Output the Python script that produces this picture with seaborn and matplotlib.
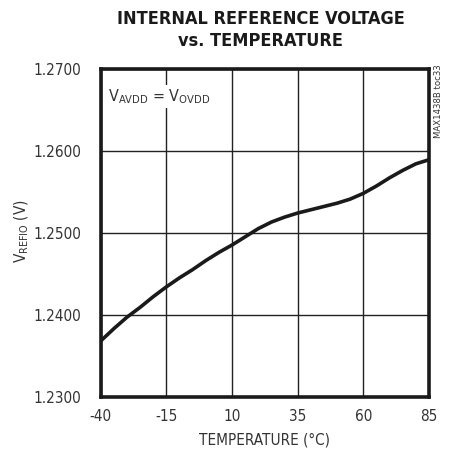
import matplotlib
matplotlib.use("Agg")
import matplotlib.pyplot as plt
import seaborn as sns
import pandas as pd

# Internal reference voltage measured across temperature
temperature_c = [-40, -35, -30, -25, -20, -15, -10, -5, 0, 5, 10, 15, 20, 25,
                 30, 35, 40, 45, 50, 55, 60, 65, 70, 75, 80, 85]
vrefio_v = [1.2368, 1.2383, 1.2397, 1.2409, 1.2422, 1.2434, 1.2445, 1.2455,
            1.2466, 1.2476, 1.2485, 1.2495, 1.2505, 1.2513, 1.2519, 1.2524,
            1.2528, 1.2532, 1.2536, 1.2541, 1.2548, 1.2557, 1.2567, 1.2576,
            1.2584, 1.2589]

x_ticks = [-40, -15, 10, 35, 60, 85]
y_ticks = [1.23, 1.24, 1.25, 1.26, 1.27]
y_tick_labels = ["1.2300", "1.2400", "1.2500", "1.2600", "1.2700"]

sns.set_theme(style="white")
plt.rcParams["font.family"] = ["DejaVu Sans"]
plt.rcParams["font.stretch"] = "condensed"
plt.rcParams["mathtext.fontset"] = "custom"
plt.rcParams["mathtext.rm"] = "DejaVu Sans:stretch=condensed"

df = pd.DataFrame({"temp": temperature_c, "vref": vrefio_v})

fig = plt.figure(figsize=(4.49, 4.62), dpi=100)
ax = fig.add_axes([0.2243, 0.1413, 0.9555 - 0.2243, 0.8513 - 0.1413])

sns.lineplot(data=df, x="temp", y="vref", ax=ax, color="#1a1a1a",
             linewidth=2.6, zorder=3)

ax.set_xlim(-40, 85)
ax.set_ylim(1.23, 1.27)
ax.set_xticks(x_ticks)
ax.set_xticklabels([str(t) for t in x_ticks])
ax.set_yticks(y_ticks)
ax.set_yticklabels(y_tick_labels)
ax.tick_params(axis="both", length=0, labelsize=11, colors="#333333")
ax.tick_params(axis="y", pad=14)
ax.tick_params(axis="x", pad=9)

ax.grid(True, color="#222222", linewidth=1.0)
for spine in ax.spines.values():
    spine.set_visible(True)
    spine.set_color("#1a1a1a")
    spine.set_linewidth(2.6)

ax.set_xlabel("TEMPERATURE (\u00b0C)", fontsize=11, color="#333333", labelpad=6)
ax.set_ylabel(r"V$_{\mathregular{REFIO}}$ (V)", fontsize=11, color="#333333")
ax.yaxis.label.set_va("center")
ax.yaxis.set_label_coords(-0.24, 0.505)

ax.text(0.022, 0.915, r"V$_{\mathregular{AVDD}}$ = V$_{\mathregular{OVDD}}$",
        transform=ax.transAxes, fontsize=11.5, color="#333333", va="center",
        ha="left", zorder=4,
        bbox=dict(facecolor="white", edgecolor="none", pad=1.5))

fig.text(0.581, 0.935, "INTERNAL REFERENCE VOLTAGE\nvs. TEMPERATURE",
         ha="center", va="center", fontsize=13, fontweight="heavy",
         fontstretch="condensed", color="#1a1a1a", linespacing=1.35)

fig.text(0.976, 0.86, "MAX1438B toc33", rotation=90, ha="center", va="top",
         fontsize=6.8, color="#333333")

fig.savefig("out.png", dpi=100, facecolor="white")
